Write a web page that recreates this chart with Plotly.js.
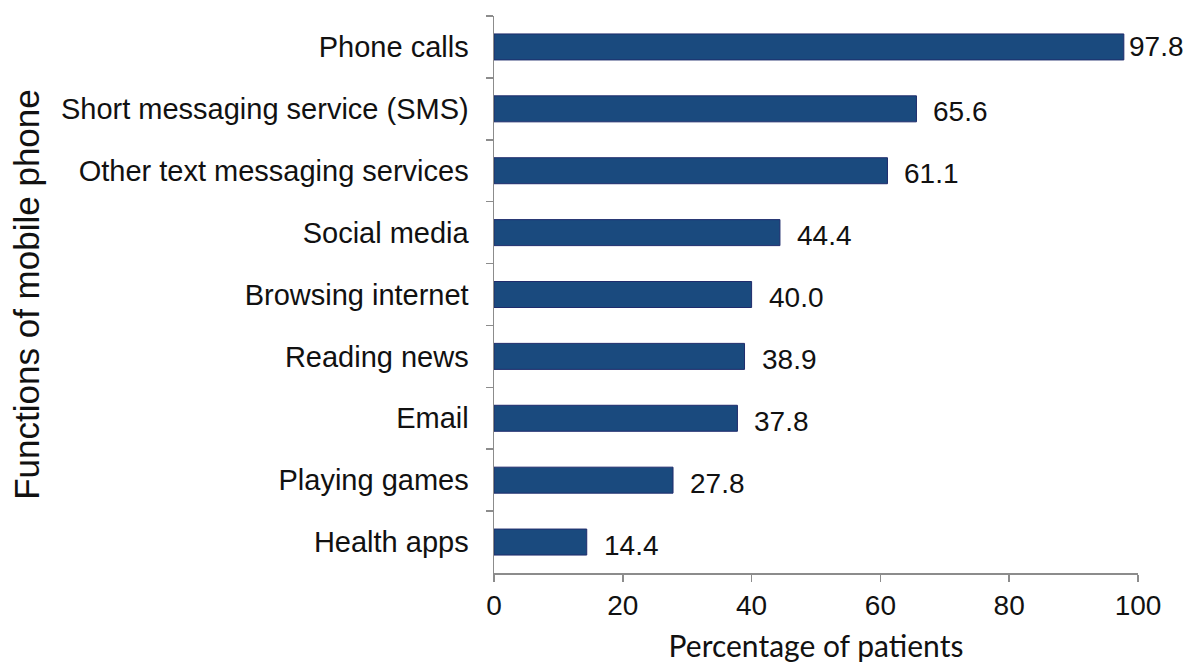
<!DOCTYPE html>
<html>
<head>
<meta charset="utf-8">
<script src="https://cdn.plot.ly/plotly-3.0.1.min.js"></script>
<style>html,body{margin:0;padding:0;background:#fff;}#chart{width:1188px;height:663px;}</style>
</head>
<body>
<div id="chart"></div>
<script>
const categories = ["Phone calls", "Short messaging service (SMS)", "Other text messaging services", "Social media", "Browsing internet", "Reading news", "Email", "Playing games", "Health apps"];
const percentages = [97.8, 65.6, 61.1, 44.4, 40.0, 38.9, 37.8, 27.8, 14.4];
const labels = ["97.8", "65.6", "61.1", "44.4", "40.0", "38.9", "37.8", "27.8", "14.4"];
const xTicks = [0, 20, 40, 60, 80, 100];

const trace = {
  type: "bar",
  orientation: "h",
  y: categories,
  x: percentages,
  width: 0.42,
  marker: {color: "#1A4A7E", line: {color: "#1F2C6C", width: 1}},
  hoverinfo: "none"
};

const annotations = categories.map((c, i) => ({
  x: percentages[i], y: c, xref: "x", yref: "y",
  text: labels[i], showarrow: false, xanchor: "left", yanchor: "middle",
  xshift: percentages[i] > 90 ? 3 : 15, yshift: percentages[i] > 90 ? 0 : -3,
  font: {family: "Liberation Sans, Arial, sans-serif", size: 28, color: "#111"}
}));

const layout = {
  width: 1188, height: 663,
  margin: {l: 494, r: 50, t: 16, b: 90},
  paper_bgcolor: "#fff", plot_bgcolor: "#fff",
  showlegend: false,
  annotations: annotations,
  xaxis: {
    range: [0, 100], tickvals: xTicks, ticktext: xTicks.map(String),
    showgrid: false, zeroline: false,
    showline: true, linecolor: "#8c8c8c", linewidth: 1.5,
    ticks: "outside", ticklen: 7, tickwidth: 1.5, tickcolor: "#8c8c8c",
    tickfont: {family: "Liberation Sans, Arial, sans-serif", size: 28, color: "#111"},
    title: {text: "Percentage of patients", font: {family: "Lato, sans-serif", size: 30, color: "#111"}, standoff: 17},
    fixedrange: true
  },
  yaxis: {
    type: "category", autorange: "reversed",
    showgrid: false, zeroline: false,
    showline: true, linecolor: "#8c8c8c", linewidth: 1.5,
    ticks: "outside", tickson: "boundaries", ticklen: 7, tickwidth: 1.5, tickcolor: "#8c8c8c",
    ticklabelstandoff: 18,
    tickfont: {family: "Liberation Sans, Arial, sans-serif", size: 29, color: "#111"},
    title: {text: "Functions of mobile phone", font: {family: "Liberation Sans, Arial, sans-serif", size: 35, color: "#111"}, standoff: 10},
    automargin: false,
    fixedrange: true
  }
};

Plotly.newPlot("chart", [trace], layout, {displayModeBar: false, staticPlot: true});
</script>
</body>
</html>
